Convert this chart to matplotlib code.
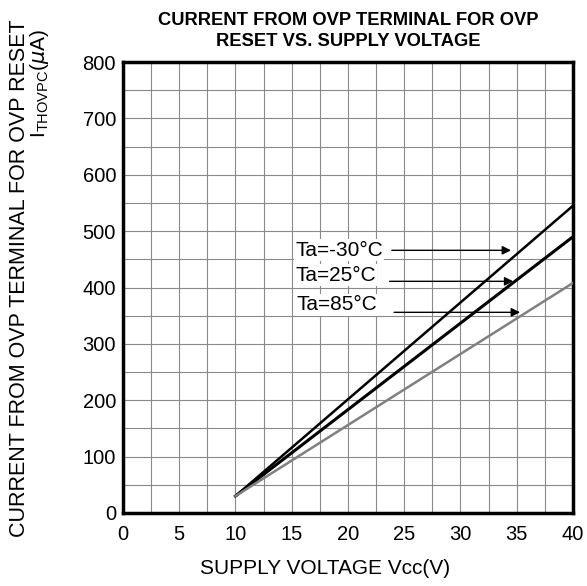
import matplotlib
matplotlib.use("Agg")
import matplotlib.pyplot as plt
import numpy as np

plt.rcParams['font.family'] = ['Liberation Sans', 'DejaVu Sans']

vcc = [10, 40]
i_m30 = [30, 545]
i_25 = [30, 490]
i_85 = [30, 408]

labels = ["Ta=-30°C", "Ta=25°C", "Ta=85°C"]
label_xy = [(15.3, 466), (15.3, 422), (15.4, 369)]
arrow_from = [(23.9, 466), (23.7, 411), (24.1, 356)]
arrow_to = [(34.5, 466), (34.7, 411), (35.3, 356)]

fs = 15
fig = plt.figure(figsize=(5.87, 5.86), dpi=100)
ax = fig.add_axes([0.2095, 0.1246, 0.7665, 0.7695])
ax.set_xlim(0, 40)
ax.set_ylim(0, 800)
ax.set_xticks(np.arange(0, 41, 5))
ax.set_yticks(np.arange(0, 801, 100))
ax.set_xticks(np.arange(0, 41, 2.5), minor=True)
ax.set_yticks(np.arange(0, 801, 50), minor=True)
ax.grid(which='both', color='#8a8a8a', linewidth=0.8)
ax.tick_params(which='both', length=0, labelsize=14.5)
ax.tick_params(axis='x', pad=9)
ax.tick_params(axis='y', pad=5)
for s in ax.spines.values():
    s.set_linewidth(2.5)
    s.set_color('black')

ax.plot(vcc, i_m30, color='black', linewidth=1.8, zorder=3)
ax.plot(vcc, i_25, color='black', linewidth=2.2, zorder=3)
ax.plot(vcc, i_85, color='#808080', linewidth=1.8, zorder=3)

for lab, (tx, ty), a0, a1 in zip(labels, label_xy, arrow_from, arrow_to):
    ax.text(tx, ty, lab, fontsize=fs, va='center', ha='left', zorder=4,
            bbox=dict(facecolor='white', edgecolor='none', pad=1))
    ax.annotate('', xy=a1, xytext=a0, zorder=4,
                arrowprops=dict(arrowstyle='-|>', color='black', lw=1.0,
                                mutation_scale=13, shrinkA=0, shrinkB=0))

ax.set_xlabel("SUPPLY VOLTAGE Vcc(V)", fontsize=fs, labelpad=14)
ax.xaxis.set_label_coords(0.449, -0.103)
fig.text(0.034, 0.525, "CURRENT FROM OVP TERMINAL FOR OVP RESET", rotation=90,
         fontsize=15.5, ha='center', va='center')
fig.text(0.068, 0.858, r"I$_{\mathregular{THOVPC}}$($\mathit{\mu}$A)", rotation=90,
         fontsize=fs, ha='center', va='center')
fig.text(0.593, 0.947, "CURRENT FROM OVP TERMINAL FOR OVP\nRESET VS. SUPPLY VOLTAGE",
         fontsize=13.2, fontweight='bold', ha='center', va='center', linespacing=1.3)

fig.savefig("out.png", dpi=100)
